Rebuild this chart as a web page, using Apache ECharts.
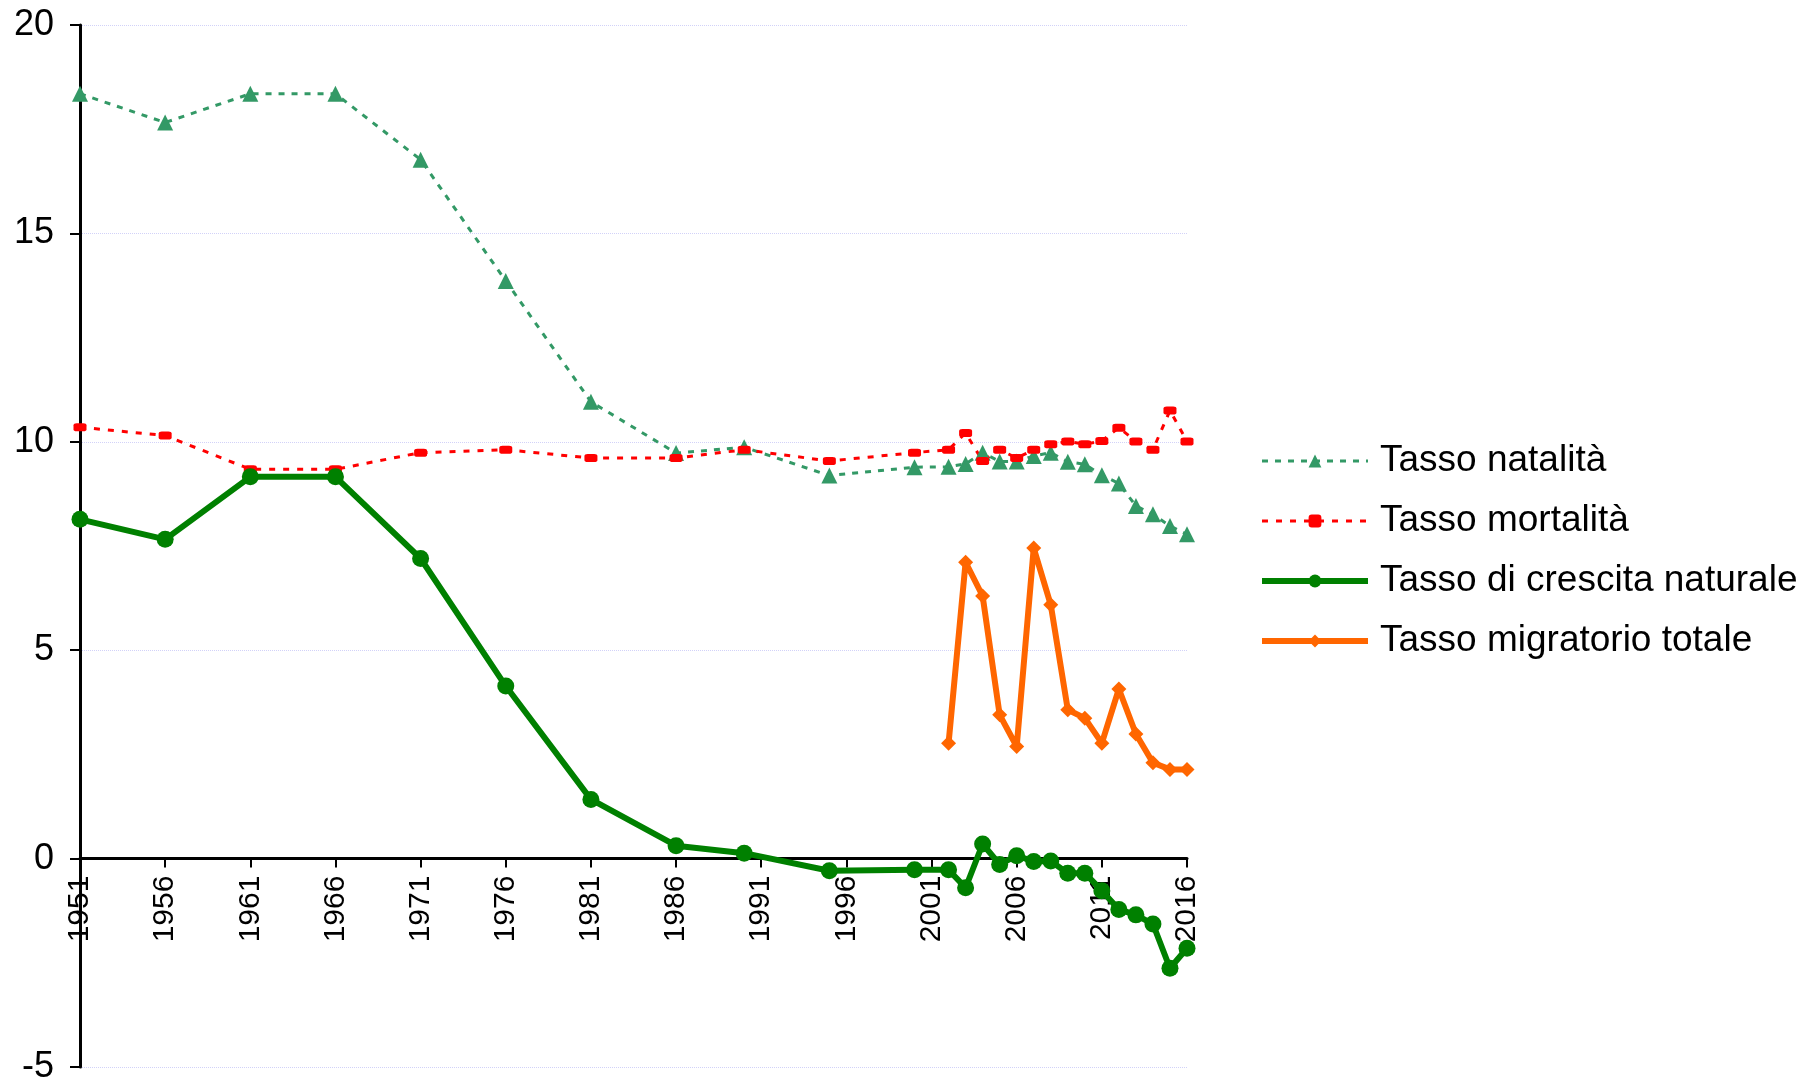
<!DOCTYPE html>
<html>
<head>
<meta charset="utf-8">
<script src="https://cdn.jsdelivr.net/npm/echarts@6/dist/echarts.min.js"></script>
<style>
  html, body { margin: 0; padding: 0; background: #fff; }
  #chart { width: 1800px; height: 1083px; }
</style>
</head>
<body>
<div id="chart"></div>
<script>
// anni (asse x a valori)
var years = [1951, 1956, 1961, 1966, 1971, 1976, 1981, 1986, 1990, 1995, 2000,
  2002, 2003, 2004, 2005, 2006, 2007, 2008, 2009, 2010, 2011, 2012, 2013, 2014, 2015, 2016];
var natalita = [18.35, 17.66, 18.35, 18.35, 16.77, 13.86, 10.96, 9.73, 9.87, 9.19, 9.39,
  9.40, 9.47, 9.74, 9.53, 9.53, 9.66, 9.74, 9.52, 9.46, 9.20, 9.00, 8.46, 8.26, 7.98, 7.78];
var mortalita = [10.35, 10.15, 9.34, 9.34, 9.74, 9.81, 9.61, 9.61, 9.81, 9.54, 9.74,
  9.81, 10.21, 9.54, 9.81, 9.61, 9.81, 9.94, 10.01, 9.94, 10.02, 10.34, 10.01, 9.81, 10.75, 10.01];
var crescita = [8.14, 7.66, 9.16, 9.16, 7.20, 4.14, 1.42, 0.31, 0.13, -0.29, -0.27,
  -0.27, -0.70, 0.35, -0.14, 0.07, -0.07, -0.06, -0.35, -0.35, -0.77, -1.22, -1.35, -1.57, -2.63, -2.15];
// tasso migratorio solo dal 2002
var migrYears = years.slice(11);
var migratorio = [2.77, 7.11, 6.30, 3.45, 2.69, 7.45, 6.09, 3.57, 3.37, 2.77, 4.07, 2.99, 2.30, 2.14, 2.14];

var yMin = -5, yMax = 20;

function pairs(xs, ys) {
  return xs.map(function (x, i) { return [x, ys[i]]; });
}

var gridTop = 25, gridBottom = 16;
var plotH = 1083 - gridTop - gridBottom;
// asse x spostato sulla linea dello zero
var zeroOffset = -plotH * (0 - yMin) / (yMax - yMin);

var font = 'Liberation Sans, Arial, sans-serif';
var chart = echarts.init(document.getElementById('chart'));
var option = {
  animation: false,
  grid: { left: 80, right: 613, top: gridTop, bottom: gridBottom, outerBoundsMode: 'none' },
  legend: {
    orient: 'vertical',
    left: 1259,
    top: 441,
    padding: 0,
    itemWidth: 106,
    itemHeight: 16,
    itemGap: 20,
    textStyle: { fontFamily: font, fontSize: 37, lineHeight: 40, color: '#000', padding: [0, 0, 0, 7] },
    data: [
      { name: 'Tasso natalità', lineStyle: { width: 3 } },
      { name: 'Tasso mortalità', lineStyle: { width: 3 } },
      { name: 'Tasso di crescita naturale', lineStyle: { width: 6 } },
      { name: 'Tasso migratorio totale', lineStyle: { width: 6 } }
    ]
  },
  xAxis: {
    type: 'value',
    position: 'bottom',
    offset: zeroOffset,
    min: 1951,
    max: 2016,
    interval: 5,
    axisLine: { onZero: false, lineStyle: { color: '#000', width: 3 } },
    axisTick: { show: true, length: 9, lineStyle: { color: '#000', width: 2 } },
    axisLabel: {
      rotate: 90, margin: 17, color: '#000',
      fontFamily: font, fontSize: 30,
      formatter: function (v) { return String(v); }
    },
    splitLine: { show: false }
  },
  yAxis: {
    type: 'value',
    min: yMin,
    max: yMax,
    interval: 5,
    axisLine: { show: true, lineStyle: { color: '#000', width: 3 } },
    axisTick: { show: true, length: 10, lineStyle: { color: '#000', width: 2 } },
    axisLabel: { margin: 26, color: '#000', fontFamily: font, fontSize: 36 },
    splitLine: { show: true, lineStyle: { color: '#d2d2f8', width: 1, type: 'dotted' } }
  },
  series: [
    {
      name: 'Tasso natalità',
      type: 'line',
      data: pairs(years, natalita),
      symbol: 'triangle',
      symbolSize: 16,
      itemStyle: { color: '#339966' },
      lineStyle: { color: '#339966', width: 3, type: [6, 7] },
      z: 3
    },
    {
      name: 'Tasso mortalità',
      type: 'line',
      data: pairs(years, mortalita),
      symbol: 'roundRect',
      symbolSize: [13, 8],
      itemStyle: { color: '#ff0000' },
      lineStyle: { color: '#ff0000', width: 3, type: [6, 8] },
      z: 3
    },
    {
      name: 'Tasso di crescita naturale',
      type: 'line',
      data: pairs(years, crescita),
      symbol: 'circle',
      symbolSize: 17,
      itemStyle: { color: '#008000' },
      lineStyle: { color: '#008000', width: 6 },
      z: 4
    },
    {
      name: 'Tasso migratorio totale',
      type: 'line',
      data: pairs(migrYears, migratorio),
      symbol: 'diamond',
      symbolSize: 15,
      itemStyle: { color: '#ff6600' },
      lineStyle: { color: '#ff6600', width: 6 },
      z: 4
    }
  ]
};
chart.setOption(option);
</script>
</body>
</html>
